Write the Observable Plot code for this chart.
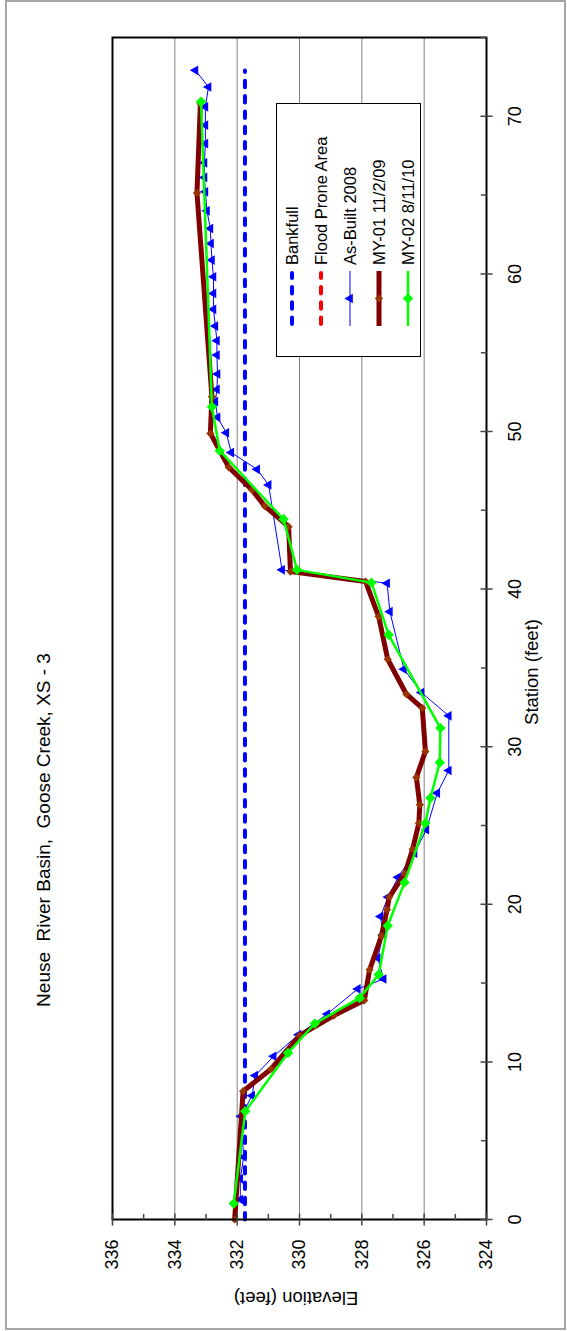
<!DOCTYPE html>
<html><head><meta charset="utf-8">
<script src="https://cdn.jsdelivr.net/npm/d3@7"></script>
<script src="https://cdn.jsdelivr.net/npm/@observablehq/plot@0.6"></script>
<style>
html,body{margin:0;padding:0;background:#fff;overflow:hidden;width:567px;height:1331px;}
#rot{position:absolute;left:0;top:0;width:1331px;height:567px;transform-origin:0 0;transform:translate(0,1331px) rotate(-90deg);font-family:"Liberation Sans",Arial,sans-serif;background:#fff;color:#000;}
#frame{position:absolute;left:1px;top:5px;width:1330px;height:561px;border:2px solid #a6a6a6;box-sizing:border-box;}
#plot{position:absolute;left:0;top:0;}
.lbl{position:absolute;white-space:pre;line-height:1;}
#legend{position:absolute;left:974px;top:276px;width:254px;height:145px;border:1px solid #000;background:#fff;box-sizing:border-box;}
.row{position:absolute;left:0;height:20px;}
.row svg{position:absolute;left:29px;top:0;}
.row span{position:absolute;left:91px;top:1px;font-size:16.5px;white-space:pre;line-height:18px;}
</style></head>
<body>
<div id="rot">
  <div id="frame"></div>
  <div id="plot"></div>
</div>
<script>
// ---- data ----
const titleText = "Neuse  River Basin,  Goose Creek, XS - 3";
const xLabel = "Station (feet)";
const yLabel = "Elevation (feet)";
const stationTicks = [0, 10, 20, 30, 40, 50, 60, 70];
const stationMinor = [5, 15, 25, 35, 45, 55, 65, 75];
const elevTicks = [324, 326, 328, 330, 332, 334, 336];
const elevMinor = [325, 327, 329, 331, 333, 335];
const elevGrid = [326, 328, 330, 332, 334];

const seriesNames = ["Bankfull", "Flood Prone Area", "As-Built 2008", "MY-01 11/2/09", "MY-02 8/11/10"];

const bankfullStation = [0, 72.9];
const bankfullElev = [331.75, 331.75];

const floodStation = [];
const floodElev = [];

const asBuiltStation = [1.27, 2.58, 3.97, 6.55, 7.86, 9.13, 10.36, 11.73, 13.04, 14.63, 15.26, 16.59, 18.07, 19.23, 20.46, 21.71, 23.25, 24.73, 27.06, 28.49, 31.96, 33.44, 34.92, 38.57, 40.37, 41.22, 46.61, 47.6, 48.66, 49.92, 50.9, 51.89, 52.67, 53.65, 54.85, 55.76, 56.69, 57.75, 58.76, 59.82, 60.88, 61.93, 62.88, 64.0, 65.21, 66.12, 67.05, 68.27, 69.44, 70.6, 71.86, 72.92];
const asBuiltElev = [331.90, 331.90, 331.79, 331.88, 331.52, 331.42, 330.83, 330.03, 329.11, 328.13, 327.30, 327.49, 327.32, 327.40, 327.16, 326.84, 326.31, 325.93, 325.58, 325.21, 325.21, 326.09, 326.65, 327.10, 327.19, 330.56, 330.99, 331.36, 332.19, 332.35, 332.63, 332.70, 332.65, 332.63, 332.65, 332.65, 332.70, 332.76, 332.76, 332.76, 332.81, 332.84, 332.86, 332.97, 333.02, 333.05, 333.05, 333.02, 333.02, 333.02, 332.92, 333.34];

const my01Station = [0, 8.14, 9.55, 11.67, 12.94, 13.91, 15.85, 18.0, 19.66, 20.46, 21.94, 23.5, 25.15, 26.32, 28.05, 29.70, 32.45, 33.33, 35.55, 38.26, 40.48, 41.11, 43.96, 45.28, 46.29, 47.73, 49.88, 52.21, 65.14, 70.8];
const my01Elev = [332.08, 331.81, 330.91, 330.0, 328.90, 327.92, 327.75, 327.37, 327.19, 327.12, 326.62, 326.37, 326.17, 326.14, 326.25, 325.96, 326.06, 326.57, 327.17, 327.46, 327.88, 330.29, 330.35, 331.12, 331.52, 332.27, 332.86, 332.81, 333.29, 333.18];

const my02Station = [1.01, 6.87, 10.57, 12.43, 14.06, 15.54, 18.64, 21.39, 25.15, 26.74, 29.0, 31.18, 37.1, 40.41, 41.22, 44.43, 48.78, 51.57, 70.92];
const my02Elev = [332.11, 331.74, 330.37, 329.51, 328.07, 327.46, 327.17, 326.63, 325.96, 325.80, 325.50, 325.48, 327.14, 327.69, 330.08, 330.51, 332.56, 332.81, 333.16];

// ---- build ----
const toRows = (st, el) => st.map((s, i) => ({s, e: el[i]}));
const bankfull = toRows(bankfullStation, bankfullElev);
const flood = toRows(floodStation, floodElev);
const asBuilt = toRows(asBuiltStation, asBuiltElev);
const my01 = toRows(my01Station, my01Elev);
const my02 = toRows(my02Station, my02Elev);

const styles = [
  {stroke: "#0000FF", sw: 4, dash: "6.5,8.8", cap: "round"},
  {stroke: "#FF0000", sw: 4, dash: "6.5,8.8", cap: "round"},
  {stroke: "#0000FF", sw: 1, symbol: "triangle", fill: "#0000FF", r: 3.6},
  {stroke: "#800000", sw: 5, symbol: "diamond2", fill: "#993300", r: 3.7},
  {stroke: "#00FF00", sw: 2.5, symbol: "diamond2", fill: "#00FF00", r: 4.7}
];

const crossV = {draw(c, l) { c.moveTo(0, -l / 2); c.lineTo(0, l / 2); }};
const inUp = {draw(c, l) { c.moveTo(0, 0); c.lineTo(0, -l); }};
const crossH = {draw(c, l) { c.moveTo(-l / 2, 0); c.lineTo(l / 2, 0); }};
const inRight = {draw(c, l) { c.moveTo(0, 0); c.lineTo(l, 0); }};

const font = "'Liberation Sans', Arial, sans-serif";
const chart = Plot.plot({
  width: 1331, height: 567,
  marginLeft: 111, marginRight: 38, marginTop: 112, marginBottom: 81,
  x: {domain: [0, 75]},
  y: {domain: [324, 336]},
  style: {fontFamily: font, fontSize: "18px", background: "transparent", color: "#000", overflow: "visible"},
  marks: [
    Plot.gridY(elevGrid, {stroke: "#808080", strokeOpacity: 1, strokeWidth: 1}),
    Plot.line(bankfull, {x: "s", y: "e", stroke: styles[0].stroke, strokeWidth: styles[0].sw, strokeDasharray: styles[0].dash, strokeLinecap: "round"}),
    Plot.line(flood, {x: "s", y: "e", stroke: styles[1].stroke, strokeWidth: styles[1].sw, strokeDasharray: styles[1].dash, strokeLinecap: "round"}),
    Plot.line(asBuilt, {x: "s", y: "e", stroke: styles[2].stroke, strokeWidth: styles[2].sw}),
    Plot.dot(asBuilt, {x: "s", y: "e", symbol: "triangle", fill: styles[2].fill, r: styles[2].r}),
    Plot.line(my01, {x: "s", y: "e", stroke: styles[3].stroke, strokeWidth: styles[3].sw, strokeLinejoin: "round"}),
    Plot.dot(my01, {x: "s", y: "e", symbol: "diamond2", fill: styles[3].fill, r: styles[3].r}),
    Plot.line(my02, {x: "s", y: "e", stroke: styles[4].stroke, strokeWidth: styles[4].sw}),
    Plot.dot(my02, {x: "s", y: "e", symbol: "diamond2", fill: styles[4].fill, r: styles[4].r}),
    Plot.frame({stroke: "#000", strokeWidth: 2}),
    Plot.vectorX(stationTicks, {x: d => d, frameAnchor: "bottom", anchor: "start", length: 11, shape: crossV, stroke: "#444"}),
    Plot.vectorX(stationMinor, {x: d => d, frameAnchor: "bottom", anchor: "start", length: 5, shape: inUp, stroke: "#444"}),
    Plot.vectorY(elevTicks, {y: d => d, frameAnchor: "left", anchor: "start", length: 11, shape: crossH, stroke: "#444"}),
    Plot.vectorY(elevMinor, {y: d => d, frameAnchor: "left", anchor: "start", length: 5, shape: inRight, stroke: "#444"}),
    Plot.axisX(stationTicks, {tickSize: 0, tickPadding: 22, fontSize: 18, label: null}),
    Plot.axisY(elevTicks, {tickSize: 0, tickPadding: 20, fontSize: 18, label: null})
  ]
});
document.getElementById("plot").appendChild(chart);

const rot = document.getElementById("rot");
function addLabel(text, cx, cy, size, rotateDeg) {
  const d = document.createElement("div");
  d.className = "lbl";
  d.textContent = text;
  d.style.fontSize = size + "px";
  d.style.left = cx + "px";
  d.style.top = cy + "px";
  d.style.transform = "translate(-50%,-50%)" + (rotateDeg ? ` rotate(${rotateDeg}deg)` : "");
  rot.appendChild(d);
}
addLabel(titleText, 501, 43, 19, 0);
addLabel(xLabel, 659, 532, 18.5, 0);
addLabel(yLabel, 33, 296, 18.5, -90);

// legend
const leg = document.createElement("div");
leg.id = "legend";
const ns = "http://www.w3.org/2000/svg";
seriesNames.forEach((name, i) => {
  const st = styles[i];
  const row = document.createElement("div");
  row.className = "row";
  row.style.top = (4.5 + i * 29) + "px";
  row.style.width = "100%";
  const svg = document.createElementNS(ns, "svg");
  svg.setAttribute("width", 57); svg.setAttribute("height", 20);
  const ln = document.createElementNS(ns, "line");
  ln.setAttribute("x1", st.dash ? 3 : 1); ln.setAttribute("x2", st.dash ? 54 : 56);
  ln.setAttribute("y1", 10); ln.setAttribute("y2", 10);
  ln.setAttribute("stroke", st.stroke); ln.setAttribute("stroke-width", st.sw);
  if (st.dash) { ln.setAttribute("stroke-dasharray", st.dash); ln.setAttribute("stroke-linecap", "round"); }
  svg.appendChild(ln);
  if (st.symbol) {
    const p = document.createElementNS(ns, "path");
    const sym = st.symbol === "triangle" ? d3.symbolTriangle : d3.symbolDiamond2;
    p.setAttribute("d", d3.symbol(sym, Math.PI * st.r * st.r)());
    p.setAttribute("transform", "translate(28.5,10)");
    p.setAttribute("fill", st.fill);
    svg.appendChild(p);
  }
  row.appendChild(svg);
  const sp = document.createElement("span");
  sp.textContent = name;
  row.appendChild(sp);
  leg.appendChild(row);
});
rot.appendChild(leg);
</script>
</body></html>
